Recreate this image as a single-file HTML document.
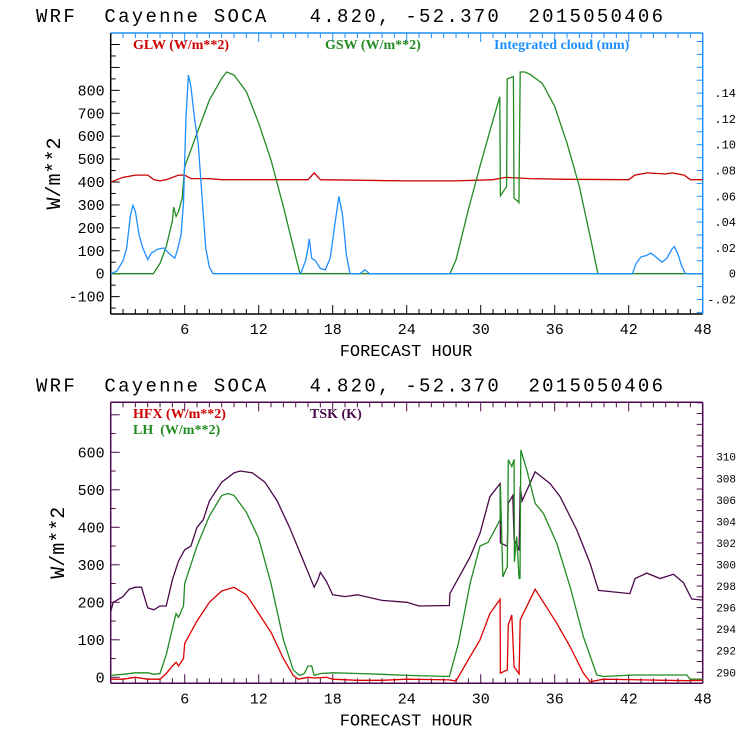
<!DOCTYPE html>
<html><head><meta charset="utf-8"><style>
html,body{margin:0;padding:0;background:#fff;}
svg text{font-family:"Liberation Mono",monospace;white-space:pre;}
.lg{font-family:"Liberation Serif",serif;font-weight:bold;font-size:14px;}
</style></head><body>
<svg id="c" width="740" height="740" viewBox="0 0 740 740" xmlns="http://www.w3.org/2000/svg" xml:space="preserve"></svg>
<script>
// ---- Top panel data ----
const glwHours=[0,0.5,1,2,3,3.5,4,4.5,5.5,6,6.5,8,9,16,16.5,17,24,28,31,32,34,37,42,42.5,43.5,45,45.5,46.5,47,48];
const glwValues=[400,410,420,430,430,410,405,410,430,430,415,415,410,410,440,410,405,405,410,420,415,412,410,430,440,435,440,430,410,410];
const gswHours=[0,3.45,4,4.5,5,5.1,5.3,5.5,5.8,6,7,8,9,9.4,10,11,12,13,14,15,15.35,27.5,28,29,30,31,31.55,31.6,32.1,32.15,32.65,32.7,33.05,33.1,33.2,33.6,34,35,36,37,38,39,39.5,48];
const gswValues=[0,0,45,118,230,290,250,270,330,467,612,758,852,880,867,794,656,496,292,74,0,0,60,280,480,670,772,340,380,850,860,330,314,310,880,880,870,830,730,570,380,130,0,0];
const cloudHours=[0,0.5,1,1.3,1.6,1.8,2,2.3,2.6,3,3.3,3.8,4.3,4.8,5.2,5.4,5.7,5.9,6.1,6.3,6.5,6.8,7.1,7.4,7.7,8,8.3,15.4,15.8,16,16.1,16.3,16.6,17,17.4,17.8,18.2,18.5,18.8,19.1,19.4,20.2,20.6,21,42.3,42.6,43,43.4,43.8,44.2,44.7,45.1,45.5,45.7,46,46.3,46.6,48];
const cloudValues=[0,0.002,0.01,0.02,0.045,0.053,0.048,0.03,0.02,0.011,0.016,0.019,0.02,0.015,0.012,0.018,0.03,0.055,0.12,0.154,0.145,0.12,0.1,0.06,0.02,0.005,0,0,0.01,0.02,0.027,0.012,0.01,0.004,0.003,0.012,0.04,0.06,0.045,0.015,0,0,0.003,0,0,0.008,0.013,0.014,0.016,0.013,0.009,0.012,0.019,0.021,0.015,0.006,0,0];
const topLeftTicks=[-100,0,100,200,300,400,500,600,700,800];
const topRightTicks=[-0.02,0,0.02,0.04,0.06,0.08,0.10,0.12,0.14];
const topRightLabels=["-.02","0",".02",".04",".06",".08",".10",".12",".14"];
const xTicks=[6,12,18,24,30,36,42,48];
// ---- Bottom panel data ----
const hfxHours=[0,1,2,3,4,4.5,5,5.3,5.5,5.9,6,7,8,9,10,11,12,13,14,14.8,15.2,16,16.5,17.5,18,20,22,24,27.46,28,29.14,29.94,30.75,31.57,31.6,32.16,32.24,32.52,32.71,33.11,33.2,34.41,36.17,37.24,38.33,38.87,39.95,46.71,48];
const hfxValues=[-5,-5,0,-5,-5,10,30,40,30,50,90,150,200,230,240,220,170,120,50,5,-5,0,-2,0,-5,-8,-8,-5,-7,-10,55,100,170,208,11,20,140,166,28,9,153,235,144,82,11,-12,-5,-9,-8];
const lhHours=[0,1,2,3,3.5,4,4.5,5,5.3,5.5,5.9,6,7,8,9,9.5,10,11,12,13,14,14.8,15.3,15.7,16,16.3,16.5,17,18,20,22,24,27.46,28.19,29.14,29.94,30.61,31.57,31.6,31.79,32.16,32.24,32.52,32.71,32.73,32.92,33.11,33.19,33.25,33.74,34.41,35.08,36.17,37.24,38.33,39.41,39.95,42.38,46.71,46.98,48];
const lhValues=[5,8,12,12,8,10,60,130,170,160,190,250,350,430,485,490,485,440,370,250,100,20,5,10,30,30,5,10,12,10,8,5,2,90,250,350,360,420,513,268,295,580,562,581,308,375,264,264,606,553,464,437,357,242,108,6,2,6,6,-5,-5];
const tskHours=[0,0.2,1,1.5,2,2.5,3,3.5,4,4.5,5,5.5,6,6.5,7,7.5,8,9,10,10.5,11.5,12.5,13.5,14.5,15.5,16.5,16.8,17,17.5,18,19,20,22,24,25,27.46,27.5,29.14,29.94,30.75,31.57,31.6,32.16,32.24,32.6,32.71,33.11,33.2,33.36,34.41,35.63,36.44,37.79,38.87,39.55,42.1,42.52,43.47,44.55,45.63,46.44,47.12,48];
const tskValues=[295.62,296.49,297.02,297.71,297.89,297.89,295.97,295.8,296.15,296.15,298.58,300.32,301.37,301.71,303.45,304.15,305.89,307.63,308.5,308.67,308.5,307.63,305.89,303.45,300.67,297.89,298.58,299.28,298.41,297.19,297.02,297.19,296.67,296.49,296.15,296.2,297.3,300.7,302.9,306.3,307.5,302,301.7,305.7,306.4,302.3,301.3,307.2,305.9,308.6,307.5,306.3,303.2,300.1,297.6,297.3,298.7,299.2,298.7,299.1,298.3,296.8,296.7];
const botLeftTicks=[0,100,200,300,400,500,600];
const botRightTicks=[290,292,294,296,298,300,302,304,306,308,310];

const NS="http://www.w3.org/2000/svg";
const svg=document.getElementById('c');
function mk(tag,attrs,parent){const e=document.createElementNS(NS,tag);for(const k in attrs)e.setAttribute(k,attrs[k]);(parent||svg).appendChild(e);return e;}
const X0=110.7,X1=702.7;
const xs=h=>X0+(h/48)*(X1-X0);

function panel(P){
  const g=mk('g',{});
  
  
  const t=mk('text',{x:36,y:P.top-11,'font-size':'19','textLength':'627','lengthAdjust':'spacing',fill:'#000'},g);
  t.textContent='WRF  Cayenne SOCA   4.820, -52.370  2015050406';
  
  
  for(let h=1;h<48;h++){
    const len=(h%6===0)?9:5;
    mk('line',{x1:xs(h),x2:xs(h),y1:P.bot,y2:P.bot-len,stroke:P.xc,'stroke-width':1},g);
    mk('line',{x1:xs(h),x2:xs(h),y1:P.top,y2:P.top+len,stroke:P.tc,'stroke-width':1},g);
  }
  xTicks.forEach(h=>{const e=mk('text',{x:xs(h),y:P.bot+20,'font-size':'15','text-anchor':'middle',fill:'#000'},g);e.textContent=String(h);
    
    });
  for(let v=P.lmin;v<=P.lmax;v+=P.lminor){const y=P.ly(v);if(y<P.top||y>P.bot)continue;
    const major=Math.abs(v%P.lmajor)<1e-6;
    mk('line',{x1:X0,x2:X0+(major?9:5),y1:y,y2:y,stroke:P.xc},g);}
  P.lticks.forEach(v=>{const e=mk('text',{x:X0-6,y:P.ly(v)+5,'font-size':'15','text-anchor':'end',fill:'#000'},g);e.textContent=String(v);
    
    });
  for(let v=P.rmin;v<=P.rmax+1e-9;v+=P.rminor){const y=P.ry(v);if(y<P.top||y>P.bot)continue;
    mk('line',{x1:X1,x2:X1-6,y1:y,y2:y,stroke:P.rc},g);}
  P.rticks.forEach((v,i)=>{const e=mk('text',{x:736,y:P.ry(v)+4,'font-size':P.rfs,'text-anchor':'end',fill:'#000'},g);e.textContent=P.rlabels[i];
    
    });
  mk('line',{x1:X0,x2:X0,y1:P.top,y2:P.bot,stroke:P.xc,'stroke-width':1.5},g);
  mk('line',{x1:X0,x2:X1,y1:P.bot,y2:P.bot,stroke:P.xc,'stroke-width':1.5},g);
  mk('line',{x1:X0,x2:X1,y1:P.top,y2:P.top,stroke:P.tc,'stroke-width':1.5},g);
  mk('line',{x1:X1,x2:X1,y1:P.top,y2:P.bot,stroke:P.rc,'stroke-width':1.5},g);
  const yt=mk('text',{x:0,y:0,'font-size':'20','text-anchor':'middle',transform:`translate(${P.ytx},${(P.top+P.bot)/2}) rotate(-90)`,fill:'#000'},g);
  yt.textContent='W/m**2';
  
  
  const xt=mk('text',{x:406,y:P.bot+42,'font-size':'17','text-anchor':'middle',fill:'#000'},g);
  xt.textContent='FORECAST HOUR';
  
  
  P.series.forEach(s=>{
    const pts=s.h.map((h,i)=>xs(h).toFixed(1)+','+s.scale(s.v[i]).toFixed(1)).join(' ');
    const pl=mk('polyline',{points:pts,fill:'none',stroke:s.c,'stroke-width':1.3},g);
    
    
  });
  P.legend.forEach(l=>{const e=mk('text',{x:l.x,y:l.y,class:'lg',fill:l.c},g);e.textContent=l.t;
    
    });
}
const tly=v=>273.7-v*0.2292, tr=v=>273.7-v*1290;
panel({name:'radiation-panel',top:33,bot:314,xc:'#000',tc:'#1e8fff',rc:'#1e8fff',
  ly:tly,ry:tr,lmin:-150,lmax:1050,lminor:50,lmajor:100,lticks:topLeftTicks,
  rmin:-0.03,rmax:0.18,rminor:0.01,rticks:topRightTicks,rlabels:topRightLabels,rfs:'12',ytx:60,
  series:[{name:'glw-line',h:glwHours,v:glwValues,c:'#cc0000',scale:tly},
          {name:'gsw-line',h:gswHours,v:gswValues,c:'#228b22',scale:tly},
          {name:'cloud-line',h:cloudHours,v:cloudValues,c:'#1e8fff',scale:tr}],
  legend:[{x:133,y:49,t:'GLW (W/m**2)',c:'#cc0000'},{x:325,y:49,t:'GSW (W/m**2)',c:'#228b22'},{x:494,y:49,t:'Integrated cloud (mm)',c:'#1e8fff'}]});
const bly=v=>677.3-v*0.375, br=v=>672.3-(v-290)*10.78;
panel({name:'flux-panel',top:402.3,bot:683.3,xc:'#4b0a4b',tc:'#4b0a4b',rc:'#4b0a4b',
  ly:bly,ry:br,lmin:0,lmax:700,lminor:50,lmajor:100,lticks:botLeftTicks,
  rmin:289,rmax:315,rminor:1,rticks:botRightTicks,rlabels:botRightTicks.map(String),rfs:'11',ytx:64,
  series:[{name:'tsk-line',h:tskHours,v:tskValues,c:'#4b0a4b',scale:br},
          {name:'lh-line',h:lhHours,v:lhValues,c:'#228b22',scale:bly},
          {name:'hfx-line',h:hfxHours,v:hfxValues,c:'#dd0000',scale:bly}],
  legend:[{x:133,y:418,t:'HFX (W/m**2)',c:'#cc0000'},{x:133,y:434,t:'LH  (W/m**2)',c:'#228b22'},{x:310,y:418,t:'TSK (K)',c:'#4b0a4b'}]});
</script>
</body></html>
